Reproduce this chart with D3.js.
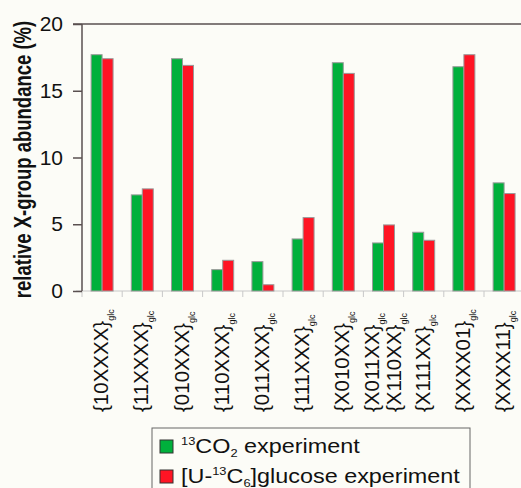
<!DOCTYPE html>
<html>
<head>
<meta charset="utf-8">
<script src="https://cdn.jsdelivr.net/npm/d3@7"></script>
<style>
  body { margin: 0; background: #fcfcf7; }
  svg { display: block; font-family: "Liberation Sans", Arial, sans-serif; }
</style>
</head>
<body>
<div id="chart"></div>
<script>
// X-group labels (two groups share one slot)
const categories = [
  ["{10XXXX}"], ["{11XXXX}"], ["{010XXX}"], ["{110XXX}"], ["{011XXX}"], ["{111XXX}"],
  ["{X010XX}"], ["{X011XX}", "{X110XX}"], ["{X111XX}"], ["{XXXX01}"], ["{XXXX11}"]
];
const series = ["co2", "glucose"];
const co2Values = [17.7, 7.2, 17.4, 1.6, 2.2, 3.9, 17.1, 3.6, 4.4, 16.8, 8.1];
const glucoseValues = [17.4, 7.65, 16.9, 2.3, 0.47, 5.5, 16.3, 4.95, 3.8, 17.7, 7.3];
const yTicks = [0, 5, 10, 15, 20];
const colors = { co2: "#00b03c", glucose: "#ff1424" };

const width = 521, height = 488;
const margin = { top: 24, left: 82, bottom: 197 };

const svg = d3.select("#chart").append("svg")
  .attr("width", width)
  .attr("height", height);

svg.append("rect").attr("width", width).attr("height", height).attr("fill", "#fcfcf7");

const y = d3.scaleLinear().domain([0, 20]).range([height - margin.bottom, margin.top]);

const x = d3.scaleBand()
  .domain(d3.range(categories.length))
  .range([margin.left, margin.left + 40.2 * categories.length])
  .padding(0);

const x1 = d3.scaleBand()
  .domain(series)
  .range([0, x.bandwidth()])
  .paddingInner(0)
  .paddingOuter(0.83);

// top frame line
svg.append("line")
  .attr("x1", margin.left - 9).attr("x2", width)
  .attr("y1", y(20)).attr("y2", y(20))
  .attr("stroke", "#5a5050").attr("stroke-width", 1.5);

// x baseline + ticks between groups
const y0 = y(0);
svg.append("line")
  .attr("x1", margin.left - 6).attr("x2", width)
  .attr("y1", y0).attr("y2", y0)
  .attr("stroke", "#c8c8c8").attr("stroke-width", 1);

svg.append("g").selectAll("line")
  .data(d3.range(categories.length + 1))
  .join("line")
  .attr("x1", i => margin.left + i * x.step())
  .attr("x2", i => margin.left + i * x.step())
  .attr("y1", y0).attr("y2", y0 + 6)
  .attr("stroke", "#c8c8c8").attr("stroke-width", 1);

// bars
const rows = categories.map((c, i) => ({ i, co2: co2Values[i], glucose: glucoseValues[i] }));

svg.append("g").selectAll("g")
  .data(rows)
  .join("g")
  .attr("transform", d => `translate(${x(d.i)},0)`)
  .selectAll("rect")
  .data(d => series.map(s => ({ s, v: d[s] })))
  .join("rect")
  .attr("x", d => x1(d.s))
  .attr("width", x1.bandwidth())
  .attr("y", d => y(d.v))
  .attr("height", d => y0 - y(d.v))
  .attr("fill", d => colors[d.s])
  .attr("stroke", "#9a9a9a")
  .attr("stroke-width", 1);

// y axis
const yAxis = svg.append("g").attr("transform", `translate(${margin.left},0)`)
  .call(d3.axisLeft(y).tickValues(yTicks).tickSize(9).tickPadding(10));
yAxis.select(".domain").attr("stroke", "#5a5050").attr("stroke-width", 1.5)
  .attr("d", `M0,${y(20)}V${y0}`);
yAxis.selectAll(".tick line").attr("stroke", "#5a5050").attr("stroke-width", 1.5);
yAxis.selectAll(".tick text")
  .attr("font-size", 21).attr("fill", "#111")
  .attr("font-family", "'Liberation Sans', Arial, sans-serif");

// y title (source image is a bit stretched sideways)
svg.append("text")
  .attr("transform", `translate(31,${(y(20) + y0) / 2 + 2}) scale(1.3,1) rotate(-90)`)
  .attr("text-anchor", "middle")
  .attr("font-size", 18.5)
  .attr("font-weight", "bold")
  .attr("fill", "#111")
  .text("relative X-group abundance (%)");

// x labels, rotated with glc subscript
const labelG = svg.append("g");
categories.forEach((lines, i) => {
  const cx = x(i) + x.bandwidth() / 2;
  lines.forEach((lab, k) => {
    const off = (k - (lines.length - 1) / 2) * 22;
    const t = labelG.append("text")
      .attr("transform", `translate(${cx + off + 6},412) rotate(-90)`)
      .attr("font-size", 20.5)
      .attr("fill", "#111");
    t.append("tspan").text(lab);
    t.append("tspan").attr("dy", 6).attr("font-size", 9).text("glc");
  });
});

// legend
const lg = svg.append("g");
lg.append("rect")
  .attr("x", 152).attr("y", 428)
  .attr("width", 318).attr("height", 90)
  .attr("fill", "#fcfcf7")
  .attr("stroke", "#666").attr("stroke-width", 1);

const legendRows = [
  { s: "co2", parts: [["13", "sup"], ["CO", ""], ["2", "sub"], [" experiment", ""]] },
  { s: "glucose", parts: [["[U-", ""], ["13", "sup"], ["C", ""], ["6", "sub"], ["]glucose experiment", ""]] }
];

legendRows.forEach((r, k) => {
  const yy = 440 + k * 30;
  lg.append("rect")
    .attr("x", 160).attr("y", yy)
    .attr("width", 13).attr("height", 13)
    .attr("fill", colors[r.s])
    .attr("stroke", "#333").attr("stroke-width", 1);
  const t = lg.append("text")
    .attr("transform", `translate(181,${yy + 13}) scale(1.17,1)`)
    .attr("font-size", 20)
    .attr("fill", "#111")
    .attr("xml:space", "preserve")
    .style("white-space", "pre");
  let shift = 0;
  r.parts.forEach(([txt, kind]) => {
    const target = kind === "sup" ? -8 : kind === "sub" ? 4 : 0;
    t.append("tspan")
      .attr("dy", target - shift)
      .attr("font-size", kind ? 11 : 20)
      .text(txt);
    shift = target;
  });
});
</script>
</body>
</html>
